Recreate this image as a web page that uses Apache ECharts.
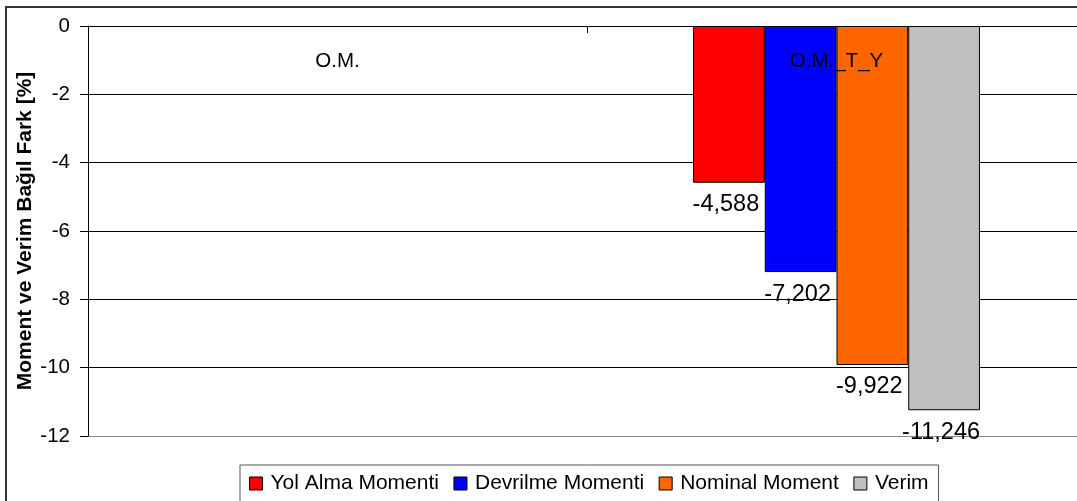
<!DOCTYPE html>
<html>
<head>
<meta charset="utf-8">
<script src="https://cdn.jsdelivr.net/npm/echarts@6/dist/echarts.min.js"></script>
<style>html,body{margin:0;padding:0;background:#fff;overflow:hidden;width:1077px;height:501px;}#c{width:1100px;height:501px;}</style>
</head>
<body>
<div id="c"></div>
<script>
var categories = ['O.M.', 'O.M._T_Y'];
var seriesNames = ['Yol Alma Momenti', 'Devrilme Momenti', 'Nominal Moment', 'Verim'];
var yolAlma = [null, -4.588];
var devrilme = [null, -7.202];
var nominal = [null, -9.922];
var verim = [null, -11.246];
var colors = ['#FF0000', '#0000FF', '#FF6600', '#C0C0C0'];
var yTicks = {min: -12, max: 0, interval: 2};

var FONT = '"Liberation Sans", Arial, sans-serif';
var chart = echarts.init(document.getElementById('c'), null, {renderer: 'canvas'});
var allData = [yolAlma, devrilme, nominal, verim];
function fmt(p) {
  return p.value == null ? '' : p.value.toFixed(3).replace('.', ',');
}
var series = allData.map(function (d, i) {
  return {
    name: seriesNames[i],
    type: 'bar',
    data: d,
    barGap: '0%',
    barCategoryGap: '42.5%',
    itemStyle: {color: colors[i], borderColor: '#000', borderWidth: 1},
    label: {show: true, position: 'bottom', distance: 10, offset: [-3, 0], formatter: fmt,
      color: '#000', fontFamily: FONT, fontSize: 23.5},
    emphasis: {disabled: true}
  };
});
chart.setOption({
  animation: false,
  backgroundColor: '#fff',
  color: colors,
  grid: {left: 88, top: 26, width: 998, height: 410, containLabel: false},
  graphic: [{
    type: 'rect', silent: true, z: 100,
    shape: {x: 6, y: 7, width: 1200, height: 700},
    style: {fill: 'none', stroke: '#333', lineWidth: 2}
  }],
  legend: {
    data: seriesNames,
    left: 240, top: 465,
    padding: [8, 10, 30, 9],
    itemWidth: 13, itemHeight: 13, itemGap: 14.5,
    icon: 'rect',
    borderColor: '#555', borderWidth: 1, backgroundColor: '#fff',
    itemStyle: {borderColor: '#000', borderWidth: 1},
    textStyle: {fontFamily: FONT, fontSize: 21, color: '#000', padding: [0, 0, 0, 3]}
  },
  xAxis: {
    type: 'category',
    data: categories,
    position: 'top',
    z: 10,
    axisLine: {show: true, lineStyle: {color: '#000', width: 1}},
    axisTick: {show: true, inside: true, length: 7, lineStyle: {color: '#000'}},
    axisLabel: {inside: true, margin: 25, color: '#000', fontFamily: FONT, fontSize: 20.5},
    splitLine: {show: false}
  },
  yAxis: {
    type: 'value',
    min: yTicks.min, max: yTicks.max, interval: yTicks.interval,
    name: 'Moment ve Verim Bağıl Fark [%]',
    nameLocation: 'middle',
    nameGap: 52,
    nameMoveOverlap: false,
    nameTextStyle: {fontFamily: FONT, fontSize: 21, fontWeight: 'bold', color: '#000'},
    axisLine: {show: true, onZero: false, lineStyle: {color: '#000', width: 1}},
    axisTick: {show: true, length: 8, lineStyle: {color: '#000'}},
    axisLabel: {margin: 18, color: '#000', fontFamily: FONT, fontSize: 20.5},
    splitLine: {show: true, lineStyle: {color: ['#888', '#000', '#000', '#000', '#000', '#000', '#000'], width: 1}}
  },
  series: series
});
</script>
</body>
</html>
